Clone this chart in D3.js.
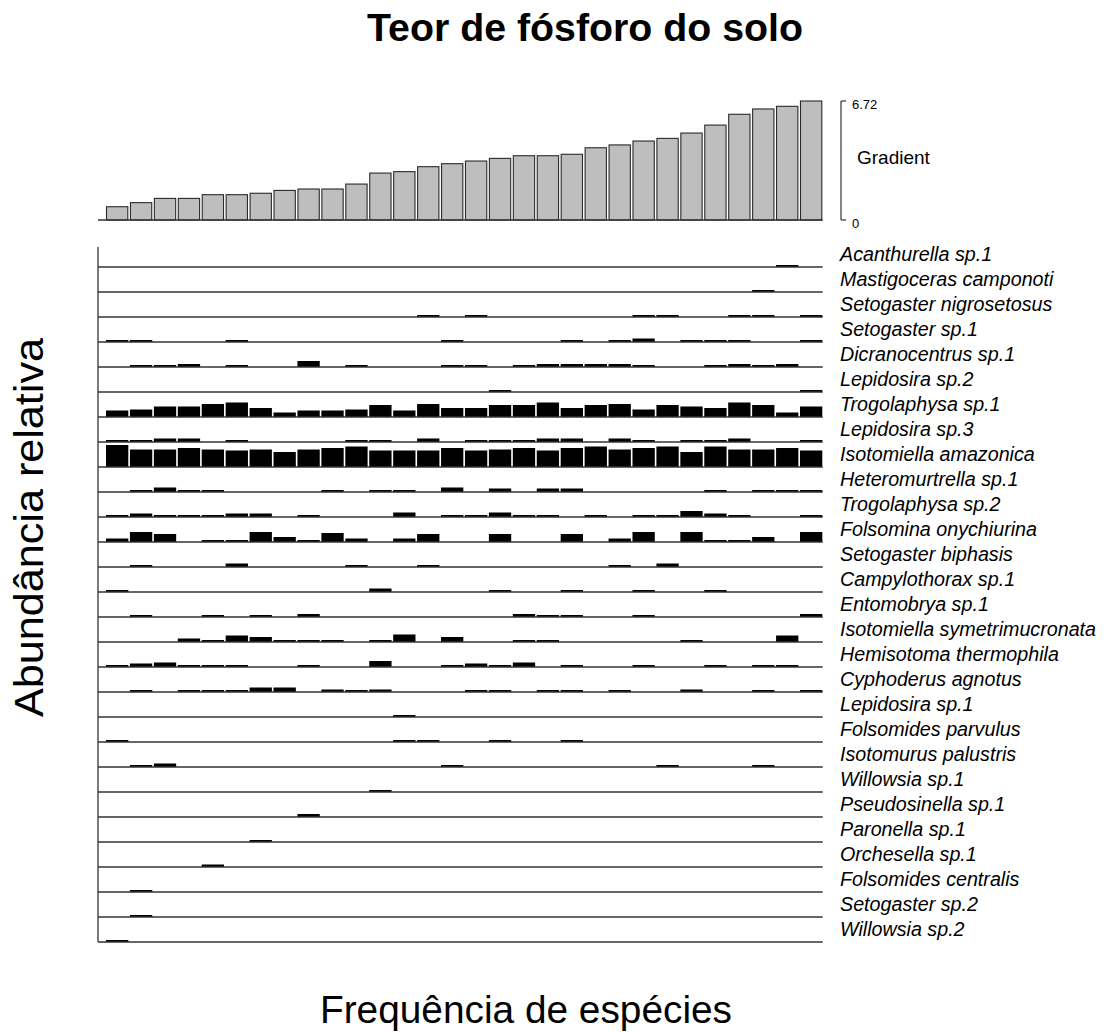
<!DOCTYPE html>
<html>
<head>
<meta charset="utf-8">
<script src="https://cdn.jsdelivr.net/npm/d3@7"></script>
<style>
  body { margin: 0; background: #fff; }
  svg { display: block; font-family: "Liberation Sans", Arial, sans-serif; }
</style>
</head>
<body>
<svg id="chart" width="1108" height="1032"></svg>
<script>
// Soil phosphorus content at each of the 30 sampling sites (sorted ascending)
const gradient = [0.75, 0.98, 1.22, 1.22, 1.43, 1.43, 1.51, 1.67, 1.75, 1.75,
                  2.03, 2.65, 2.73, 3.01, 3.18, 3.33, 3.48, 3.63, 3.63, 3.71,
                  4.08, 4.24, 4.46, 4.61, 4.91, 5.36, 5.97, 6.27, 6.42, 6.72];
const gradientTicks = [0, 6.72];

// Collembola species, top to bottom
const species = [
  "Acanthurella sp.1", "Mastigoceras camponoti", "Setogaster nigrosetosus",
  "Setogaster sp.1", "Dicranocentrus sp.1", "Lepidosira sp.2",
  "Trogolaphysa sp.1", "Lepidosira sp.3", "Isotomiella amazonica",
  "Heteromurtrella sp.1", "Trogolaphysa sp.2", "Folsomina onychiurina",
  "Setogaster biphasis", "Campylothorax sp.1", "Entomobrya sp.1",
  "Isotomiella symetrimucronata", "Hemisotoma thermophila", "Cyphoderus agnotus",
  "Lepidosira sp.1", "Folsomides parvulus", "Isotomurus palustris",
  "Willowsia sp.1", "Pseudosinella sp.1", "Paronella sp.1",
  "Orchesella sp.1", "Folsomides centralis", "Setogaster sp.2", "Willowsia sp.2"
];

// Relative abundance (%) of each species at each site, same order as `species`
const abundance = [
  [0,0,0,0,0,0,0,0,0,0, 0,0,0,0,0,0,0,0,0,0, 0,0,0,0,0,0,0,0,4,0],
  [0,0,0,0,0,0,0,0,0,0, 0,0,0,0,0,0,0,0,0,0, 0,0,0,0,0,0,0,4,0,0],
  [0,0,0,0,0,0,0,0,0,0, 0,0,0,4,0,4,0,0,0,0, 0,0,4,4,0,0,4,4,0,4],
  [4,4,0,0,0,4,0,0,0,0, 0,0,0,0,4,0,0,0,0,4, 0,4,7,0,4,4,4,0,0,4],
  [0,4,4,6,0,4,0,0,12,0, 4,0,0,0,4,4,0,4,6,6, 6,6,4,0,0,4,6,4,6,0],
  [0,0,0,0,0,0,0,0,0,0, 0,0,0,0,0,0,4,0,0,0, 0,0,0,0,0,0,0,0,0,4],
  [13,15,21,21,26,29,18,9,13,13, 15,24,13,26,18,18,24,24,29,18, 24,26,15,24,21,18,29,24,9,21],
  [4,4,7,7,0,4,0,0,0,0, 4,4,0,7,0,4,4,4,7,7, 0,7,4,0,4,4,7,0,0,4],
  [44,35,35,38,35,33,35,30,35,38, 41,33,33,33,38,33,35,38,33,38, 41,35,38,41,30,41,35,35,38,33],
  [0,4,9,4,4,0,0,0,0,4, 0,4,4,0,9,0,7,0,7,7, 0,0,0,0,0,4,0,4,4,4],
  [4,7,4,4,4,7,7,0,4,0, 0,0,9,0,4,4,9,4,4,0, 4,0,4,4,12,7,4,0,0,4],
  [7,20,16,0,4,4,20,10,4,18, 7,0,7,16,0,0,16,0,0,16, 0,7,20,0,20,4,4,10,0,20],
  [0,4,0,0,0,7,0,0,0,0, 4,0,0,4,0,0,0,0,0,0, 0,4,0,7,0,0,0,0,0,0],
  [4,0,0,0,0,0,0,0,0,0, 0,7,0,0,0,0,4,0,0,4, 0,0,4,0,0,4,0,0,0,0],
  [0,4,0,0,4,0,4,0,6,0, 0,0,0,0,0,0,0,6,4,4, 0,0,4,0,0,0,0,0,0,6],
  [0,0,0,7,4,13,10,4,4,4, 0,4,15,0,10,0,0,4,4,0, 0,0,0,0,4,0,0,0,13,0],
  [4,7,9,4,4,4,0,0,4,0, 0,12,0,0,4,7,4,9,0,4, 0,0,4,0,0,4,0,4,4,0],
  [0,4,0,4,4,4,9,9,0,5, 4,5,0,0,0,4,4,0,4,4, 0,4,0,0,5,0,0,4,0,4],
  [0,0,0,0,0,0,0,0,0,0, 0,0,4,0,0,0,0,0,0,0, 0,0,0,0,0,0,0,0,0,0],
  [4,0,0,0,0,0,0,0,0,0, 0,0,4,4,0,0,4,0,0,4, 0,0,0,0,0,0,0,0,0,0],
  [0,4,7,0,0,0,0,0,0,0, 0,0,0,0,4,0,0,0,0,0, 0,0,0,4,0,0,0,4,0,0],
  [0,0,0,0,0,0,0,0,0,0, 0,4,0,0,0,0,0,0,0,0, 0,0,0,0,0,0,0,0,0,0],
  [0,0,0,0,0,0,0,0,6,0, 0,0,0,0,0,0,0,0,0,0, 0,0,0,0,0,0,0,0,0,0],
  [0,0,0,0,0,0,4,0,0,0, 0,0,0,0,0,0,0,0,0,0, 0,0,0,0,0,0,0,0,0,0],
  [0,0,0,0,5,0,0,0,0,0, 0,0,0,0,0,0,0,0,0,0, 0,0,0,0,0,0,0,0,0,0],
  [0,4,0,0,0,0,0,0,0,0, 0,0,0,0,0,0,0,0,0,0, 0,0,0,0,0,0,0,0,0,0],
  [0,4,0,0,0,0,0,0,0,0, 0,0,0,0,0,0,0,0,0,0, 0,0,0,0,0,0,0,0,0,0],
  [4,0,0,0,0,0,0,0,0,0, 0,0,0,0,0,0,0,0,0,0, 0,0,0,0,0,0,0,0,0,0]
];

const titleText = "Teor de fósforo do solo";
const yTitle = "Abundância relativa";
const xTitle = "Frequência de espécies";
const gradientLabel = "Gradient";

const svg = d3.select("#chart");
const lineColor = "#333";

// Site positions shared by the gradient panel and the species panel
const sites = d3.range(gradient.length);
const x = d3.scaleBand().domain(sites).range([106, 822.3]).paddingInner(0.068).paddingOuter(0);
const axisLeft = 98, axisRight = 822.7;

// Gradient panel
const gy = d3.scaleLinear().domain([0, d3.max(gradient)]).range([220, 101]);

svg.append("g").selectAll("rect").data(gradient).join("rect")
  .attr("x", (d, i) => x(i) + 0.5)
  .attr("width", x.bandwidth() - 1)
  .attr("y", d => gy(d))
  .attr("height", d => gy(0) - gy(d))
  .attr("fill", "#bebebe")
  .attr("stroke", "#2a2a2a")
  .attr("stroke-width", 1.1);

svg.append("line")
  .attr("x1", axisLeft).attr("x2", axisRight)
  .attr("y1", gy(0)).attr("y2", gy(0))
  .attr("stroke", lineColor).attr("stroke-width", 1.3);

// Gradient scale on the right
const gAxis = svg.append("g").attr("transform", "translate(841,0)");
gAxis.append("line")
  .attr("x1", 0).attr("x2", 0)
  .attr("y1", gy(d3.max(gradientTicks))).attr("y2", gy(0))
  .attr("stroke", lineColor).attr("stroke-width", 1.2);
gAxis.selectAll("line.tick").data(gradientTicks).join("line")
  .attr("class", "tick")
  .attr("x1", 0).attr("x2", 5)
  .attr("y1", d => gy(d)).attr("y2", d => gy(d))
  .attr("stroke", lineColor).attr("stroke-width", 1.2);
gAxis.selectAll("text").data(gradientTicks).join("text")
  .attr("x", 11)
  .attr("y", d => gy(d) + 7.5)
  .attr("font-size", 13)
  .text(d => d === 0 ? "0" : d3.format(".2f")(d));

svg.append("text")
  .attr("x", 857).attr("y", 164)
  .attr("font-size", 19)
  .text(gradientLabel);

// Species panel: one strip per species
const row = d3.scaleBand().domain(species).range([242, 942]).padding(0);
const ay = d3.scaleLinear().domain([0, 50]).range([0, row.bandwidth()]);

const strips = svg.append("g").selectAll("g").data(species).join("g")
  .attr("transform", d => `translate(0,${row(d) + row.bandwidth()})`);

strips.selectAll("rect")
  .data((d, i) => abundance[i].map((v, j) => ({ v, j })).filter(e => e.v > 0))
  .join("rect")
  .attr("x", e => x(e.j))
  .attr("width", x.bandwidth())
  .attr("y", e => -ay(e.v))
  .attr("height", e => ay(e.v))
  .attr("fill", "#000");

strips.append("line")
  .attr("x1", axisLeft).attr("x2", axisRight)
  .attr("y1", 0).attr("y2", 0)
  .attr("stroke", lineColor).attr("stroke-width", 1.3);

strips.append("text")
  .attr("x", 840)
  .attr("y", -6)
  .attr("font-size", 19.7)
  .attr("font-style", "italic")
  .text(d => d);

svg.append("line")
  .attr("x1", axisLeft).attr("x2", axisLeft)
  .attr("y1", 247).attr("y2", 942)
  .attr("stroke", lineColor).attr("stroke-width", 1.3);

// Titles
svg.append("text")
  .attr("x", 585).attr("y", 41)
  .attr("text-anchor", "middle")
  .attr("font-size", 38)
  .attr("font-weight", "bold")
  .attr("textLength", 436)
  .attr("lengthAdjust", "spacingAndGlyphs")
  .text(titleText);

svg.append("text")
  .attr("transform", "translate(43,527.5) rotate(-90)")
  .attr("text-anchor", "middle")
  .attr("font-size", 40)
  .attr("textLength", 379)
  .attr("lengthAdjust", "spacingAndGlyphs")
  .text(yTitle);

svg.append("text")
  .attr("x", 526).attr("y", 1023)
  .attr("text-anchor", "middle")
  .attr("font-size", 38)
  .attr("textLength", 412)
  .attr("lengthAdjust", "spacingAndGlyphs")
  .text(xTitle);
</script>
</body>
</html>
